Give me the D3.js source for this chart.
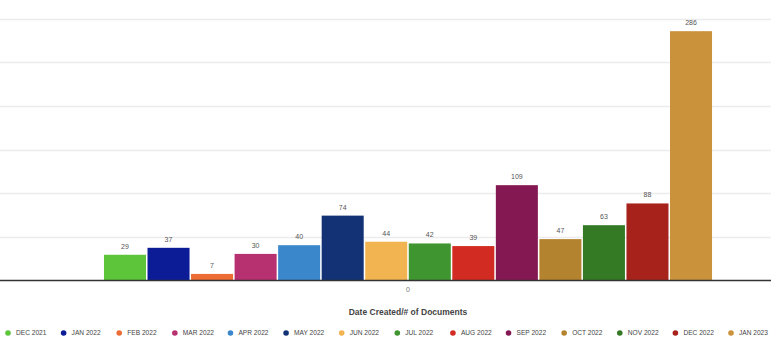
<!DOCTYPE html>
<html>
<head>
<meta charset="utf-8">
<script src="https://cdn.jsdelivr.net/npm/d3@7.9.0/dist/d3.min.js"></script>
<style>
  body { margin: 0; background: #fff; }
  svg { display: block; font-family: "Liberation Sans", Arial, sans-serif; }
</style>
</head>
<body>
<div id="chart"></div>
<script>
// data
const groups = ['0'];
const months = ['DEC 2021', 'JAN 2022', 'FEB 2022', 'MAR 2022', 'APR 2022', 'MAY 2022', 'JUN 2022',
    'JUL 2022', 'AUG 2022', 'SEP 2022', 'OCT 2022', 'NOV 2022', 'DEC 2022', 'JAN 2023'];
const counts = [29, 37, 7, 30, 40, 74, 44, 42, 39, 109, 47, 63, 88, 286];
const colors = ['#5cc53a', '#0b1c96', '#ec6c34', '#b7306f', '#3a88cb', '#133275', '#f2b451',
    '#3f952f', '#d22c22', '#841852', '#b4832f', '#347a24', '#a7221a', '#c9923b'];
const yTicks = [0, 50, 100, 150, 200, 250, 300];

const width = 771;
const height = 354;
const margin = { top: 19, right: 0, bottom: 74, left: 45 };

const data = months.map((m, i) => ({ group: '0', month: m, count: counts[i] }));

const svg = d3.select('#chart')
    .append('svg')
    .attr('width', width)
    .attr('height', height);

const x0 = d3.scaleBand()
    .domain(groups)
    .range([margin.left, width - margin.right])
    .paddingInner(0)
    .paddingOuter(0.094);

const x1 = d3.scaleBand()
    .domain(months)
    .range([0, x0.bandwidth()])
    .padding(0.035);

const y = d3.scaleLinear()
    .domain([0, 300])
    .range([height - margin.bottom, margin.top]);

const color = d3.scaleOrdinal().domain(months).range(colors);

// gridlines
svg.append('g')
    .attr('class', 'gridlines')
    .selectAll('line')
    .data(yTicks.filter(d => d > 0))
    .enter()
    .append('line')
    .attr('x1', 0)
    .attr('x2', width)
    .attr('y1', d => Math.round(y(d)) + 0.5)
    .attr('y2', d => Math.round(y(d)) + 0.5)
    .attr('stroke', '#ececec')
    .attr('stroke-width', 1.5);

// bars
const bars = svg.append('g')
    .selectAll('g')
    .data(groups)
    .enter()
    .append('g')
    .attr('transform', d => `translate(${x0(d)},0)`);

bars.selectAll('rect')
    .data(data)
    .enter()
    .append('rect')
    .attr('x', d => x1(d.month))
    .attr('y', d => y(d.count))
    .attr('width', x1.bandwidth())
    .attr('height', d => y(0) - y(d.count))
    .attr('fill', d => color(d.month));

// value labels
bars.selectAll('text')
    .data(data)
    .enter()
    .append('text')
    .attr('x', d => x1(d.month) + x1.bandwidth() / 2)
    .attr('y', d => y(d.count) - 6)
    .attr('text-anchor', 'middle')
    .attr('font-size', '7px')
    .attr('fill', '#555')
    .text(d => d.count);

// x axis
const xAxis = svg.append('g')
    .attr('transform', `translate(0, ${y(0)})`)
    .call(d3.axisBottom(x0).tickSize(0).tickPadding(7));

xAxis.select('.domain').remove();
xAxis.selectAll('text')
    .attr('font-size', '7px')
    .attr('fill', '#777');

svg.append('line')
    .attr('x1', 0)
    .attr('x2', width)
    .attr('y1', y(0) + 0.5)
    .attr('y2', y(0) + 0.5)
    .attr('stroke', '#333')
    .attr('stroke-width', 1.5);

// axis title
svg.append('text')
    .attr('x', x0('0') + x0.bandwidth() / 2)
    .attr('y', 315)
    .attr('text-anchor', 'middle')
    .attr('font-size', '8.5px')
    .attr('font-weight', 'bold')
    .attr('fill', '#444')
    .text('Date Created/# of Documents');

// legend
const legendX = d3.scalePoint().domain(months).range([8, 731]);

const legendItem = svg.append('g')
    .attr('class', 'legend')
    .selectAll('g')
    .data(months)
    .enter()
    .append('g')
    .attr('transform', d => `translate(${legendX(d)}, 333)`);

legendItem.append('circle')
    .attr('r', 2.8)
    .attr('fill', d => color(d));

legendItem.append('text')
    .attr('x', 8)
    .attr('dy', '0.35em')
    .attr('font-size', '6.6px')
    .attr('fill', '#444')
    .text(d => d);
</script>
</body>
</html>
